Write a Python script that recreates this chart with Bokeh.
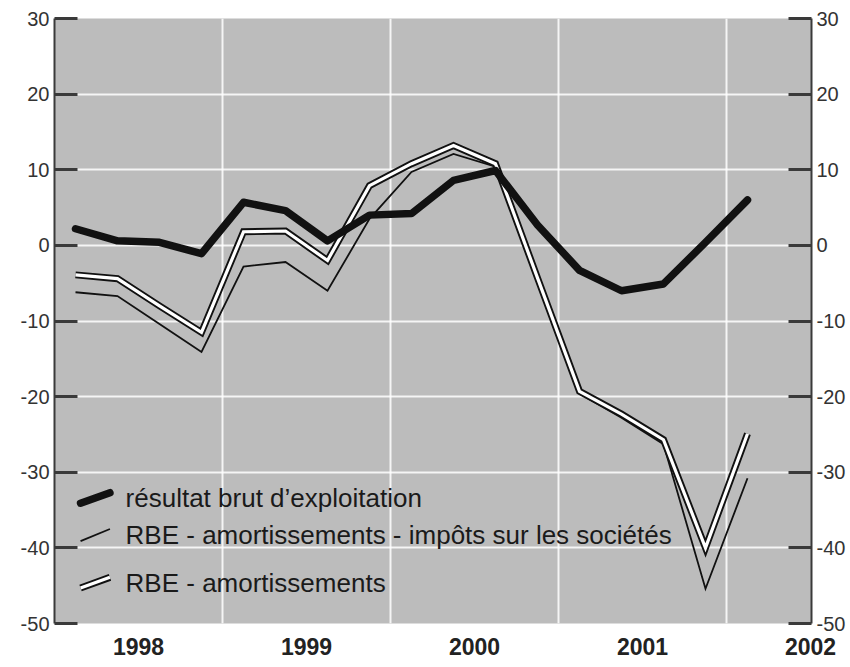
from bokeh.plotting import figure
from bokeh.models import FixedTicker, LinearAxis, Range1d
from bokeh.core.properties import value
from bokeh.embed import file_html
from bokeh.resources import INLINE

# ---- data (quarterly, % change) ----
years    = [1998, 1998, 1998, 1998, 1999, 1999, 1999, 1999, 2000, 2000, 2000, 2000,
            2001, 2001, 2001, 2001, 2002]
quarters = [1, 2, 3, 4, 1, 2, 3, 4, 1, 2, 3, 4, 1, 2, 3, 4, 1]
rbe          = [2.2, 0.6, 0.4, -1.1, 5.7, 4.6, 0.6, 4.0, 4.2, 8.6, 9.9, 2.7,
                -3.3, -6.0, -5.1, 0.4, 6.0]
rbe_amort    = [-3.9, -4.4, -8.0, -11.5, 1.8, 1.9, -2.0, 7.9, 10.8, 13.2, 10.8, -4.3,
                -19.3, -22.3, -25.7, -40.0, -24.9]
rbe_amort_is = [-6.2, -6.7, -10.4, -14.1, -2.8, -2.2, -6.0, 3.5, 9.7, 12.1, 10.4, -5.0,
                -19.6, -22.8, -26.3, -45.4, -30.8]

y_ticks = [-50, -40, -30, -20, -10, 0, 10, 20, 30]
x_label_years = [1998, 1999, 2000, 2001, 2002]
legend_labels = ["résultat brut d’exploitation",
                 "RBE - amortissements - impôts sur les sociétés",
                 "RBE - amortissements"]

x = [y + (q - 0.5) / 4 for y, q in zip(years, quarters)]

BG = "#bcbcbc"
INK = "#111111"
AX = "#3a3a3a"
FONT = "Liberation Sans"

p = figure(frame_width=757, frame_height=605,
           x_range=Range1d(1998, 2002.506), y_range=Range1d(-50, 30),
           output_backend="svg", toolbar_location=None,
           min_border_left=54, min_border_right=37,
           min_border_top=18, min_border_bottom=40,
           background_fill_color=BG, border_fill_color="white",
           outline_line_color=None)

# grid
p.xgrid.ticker = FixedTicker(ticks=[1999, 2000, 2001, 2002])
p.ygrid.ticker = FixedTicker(ticks=[t for t in y_ticks if -50 < t < 30])
for g in (p.xgrid, p.ygrid):
    g.grid_line_color = "white"
    g.grid_line_width = 2
    g.grid_line_alpha = 0.85

# y axes
def style_y(ax):
    ax.ticker = FixedTicker(ticks=y_ticks)
    ax.major_label_overrides = {t: str(t) for t in y_ticks}
    ax.major_tick_in = 23
    ax.major_tick_out = 0
    ax.major_tick_line_width = 3
    ax.major_tick_line_color = AX
    ax.minor_tick_line_color = None
    ax.axis_line_width = 2
    ax.axis_line_color = AX
    ax.major_label_text_font = FONT
    ax.major_label_text_font_size = "20px"
    ax.major_label_text_color = "#333333"
    ax.major_label_standoff = 5

style_y(p.yaxis[0])
right = LinearAxis()
style_y(right)
p.add_layout(right, "right")

# x axis: year labels centred in each year
xa = p.xaxis[0]
xa.ticker = FixedTicker(ticks=[yr + 0.5 for yr in x_label_years])
xa.major_label_overrides = {yr + 0.5: str(yr) for yr in x_label_years}
xa.axis_line_color = None
xa.major_tick_line_color = None
xa.minor_tick_line_color = None
xa.major_label_text_font = FONT
xa.major_label_text_font_style = "bold"
xa.major_label_text_font_size = "23px"
xa.major_label_text_color = "#222222"
xa.major_label_standoff = 8

# series
p.line(x, rbe_amort_is, line_color=INK, line_width=1.8, line_join="miter")
p.line(x, rbe_amort, line_color=INK, line_width=7, line_join="miter")
p.line(x, rbe_amort, line_color="white", line_width=3.2, line_join="miter")
p.line(x, rbe, line_color=INK, line_width=7.5, line_join="round", line_cap="round")

# legend (drawn by hand: diagonal strokes like the original)
lg_x0, lg_x1, lg_tx = 1998.155, 1998.33, 1998.423
lg_rows = [-33.4, -38.3, -44.6]
p.segment(x0=[lg_x0], y0=[lg_rows[0] - 0.7], x1=[lg_x1], y1=[lg_rows[0] + 0.7],
          line_color=INK, line_width=7.5, line_cap="round")
p.segment(x0=[lg_x0], y0=[lg_rows[1] - 0.8], x1=[lg_x1], y1=[lg_rows[1] + 0.8],
          line_color=INK, line_width=1.8)
p.segment(x0=[lg_x0], y0=[lg_rows[2] - 0.7], x1=[lg_x1], y1=[lg_rows[2] + 0.7],
          line_color=INK, line_width=7)
p.segment(x0=[lg_x0], y0=[lg_rows[2] - 0.7], x1=[lg_x1], y1=[lg_rows[2] + 0.7],
          line_color="white", line_width=3.2)
p.text(x=[lg_tx] * 3, y=lg_rows, text=legend_labels,
       text_font=value(FONT), text_font_size="26px", text_color="#1a1a1a",
       text_baseline="middle", text_align="left")

open("out.html", "w").write(file_html(p, INLINE))
